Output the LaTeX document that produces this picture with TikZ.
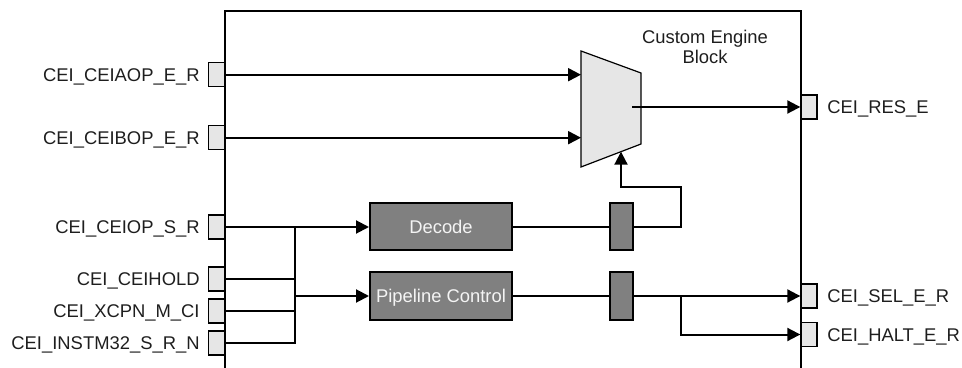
\documentclass[tikz,border=0pt]{standalone}
\usepackage{fontspec}
\setmainfont{Liberation Sans}
\usetikzlibrary{arrows.meta}
\definecolor{portfill}{HTML}{E6E6E6}
\definecolor{unitfill}{HTML}{808080}
\definecolor{inktext}{HTML}{1E1E1E}
\definecolor{unittext}{HTML}{F4F4F4}
\begin{document}
\begin{tikzpicture}[x=0.5pt,y=-0.5pt,
  txt/.style={font=\fontsize{9.2}{10}\selectfont, text=inktext, inner sep=0pt},
  sig/.style={txt, text height=6.6pt, text depth=0pt},
  frame/.style={draw=black, line width=1pt},
  wire/.style={draw=black, line width=1pt, line join=miter},
  arr/.style={wire, -{Triangle[length=6.5pt,width=6.5pt]}},
  port/.style={draw=black, line width=0.7pt, fill=portfill, minimum width=8pt, minimum height=12pt, inner sep=0pt},
  unit/.style={draw=black, line width=1pt, fill=unitfill, text=unittext, font=\fontsize{9.2}{10}\selectfont,
               text height=6.6pt, text depth=0pt, minimum width=71pt, minimum height=23.5pt, inner sep=0pt},
  reg/.style={draw=black, line width=1pt, fill=unitfill, minimum width=11.5pt, minimum height=23.5pt, inner sep=0pt},
  mux/.style={draw=black, line width=0.6pt, fill=portfill, line join=miter}
]
\useasboundingbox (0,0) rectangle (962,368);

% outline of the custom engine block
\draw[frame] (225,368) -- (225,11) -- (801,11) -- (801,368);
\node[txt, align=center] (title) at (705,47) {Custom Engine\\Block};

% input ports
\node[port] (pA) at (216.5,74.7) {};
\node[port] (pB) at (216.5,137.7) {};
\node[port] (pOP) at (216.5,227) {};
\node[port] (pHOLD) at (216.5,279) {};
\node[port] (pX) at (216.5,311) {};
\node[port] (pI) at (216.5,343) {};
\node[sig, anchor=east] (lA) at (200,74.7) {CEI\_CEIAOP\_E\_R};
\node[sig, anchor=east] (lB) at (200,137.7) {CEI\_CEIBOP\_E\_R};
\node[sig, anchor=east] (lOP) at (200,227) {CEI\_CEIOP\_S\_R};
\node[sig, anchor=east] (lHOLD) at (200,279) {CEI\_CEIHOLD};
\node[sig, anchor=east] (lX) at (200,311) {CEI\_XCPN\_M\_CI};
\node[sig, anchor=east] (lI) at (200,343) {CEI\_INSTM32\_S\_R\_N};

% output ports
\node[port] (pRES) at (809,107) {};
\node[port] (pSEL) at (809,296) {};
\node[port] (pHALT) at (809,334.5) {};
\node[sig, anchor=west] (lRES) at (827,107) {CEI\_RES\_E};
\node[sig, anchor=west] (lSEL) at (827,296) {CEI\_SEL\_E\_R};
\node[sig, anchor=west] (lHALT) at (827,334.5) {CEI\_HALT\_E\_R};

% result multiplexer
\coordinate (mtl) at (581,51);
\coordinate (mtr) at (641,73);
\coordinate (mbr) at (641,144);
\coordinate (mbl) at (581,167);
\draw[mux] (mtl) -- (mtr) -- (mbr) -- (mbl) -- cycle;
\coordinate (mA) at (581,74.7);
\coordinate (mB) at (581,137.7);
\coordinate (mctl) at (621,151.7);
\coordinate (mout) at (632,107);

% decode and pipeline control units with their stage registers
\node[unit] (dec) at (441,227) {Decode};
\node[unit] (pipe) at (441,296) {Pipeline Control};
\node[reg] (r1) at (621,227) {};
\node[reg] (r2) at (621,296) {};

% operand paths into the multiplexer
\draw[arr] (pA.east) -- (mA);
\draw[arr] (pB.east) -- (mB);
\draw[arr] (mout) -- (pRES.west);

% control inputs gathered onto a common bus
\coordinate (j1) at (295,227);
\coordinate (j2) at (295,296);
\coordinate (j3) at (295,343);
\draw[wire] (pOP.east) -- (j1) -- (j3) -- (pI.east);
\draw[wire] (pHOLD.east) -- (pHOLD.east -| j1);
\draw[wire] (pX.east) -- (pX.east -| j1);
\draw[arr] (j1) -- (dec.west);
\draw[arr] (j2) -- (pipe.west);

% decode result selects the multiplexer input
\coordinate (bend) at (681,187);
\draw[wire] (dec.east) -- (r1.west);
\draw[arr] (r1.east) -| (bend) -| (mctl);

% pipeline control outputs
\coordinate (br) at (681,296);
\draw[wire] (pipe.east) -- (r2.west);
\draw[arr] (r2.east) -- (pSEL.west);
\draw[arr] (br) |- (pHALT.west);
\end{tikzpicture}
\end{document}
